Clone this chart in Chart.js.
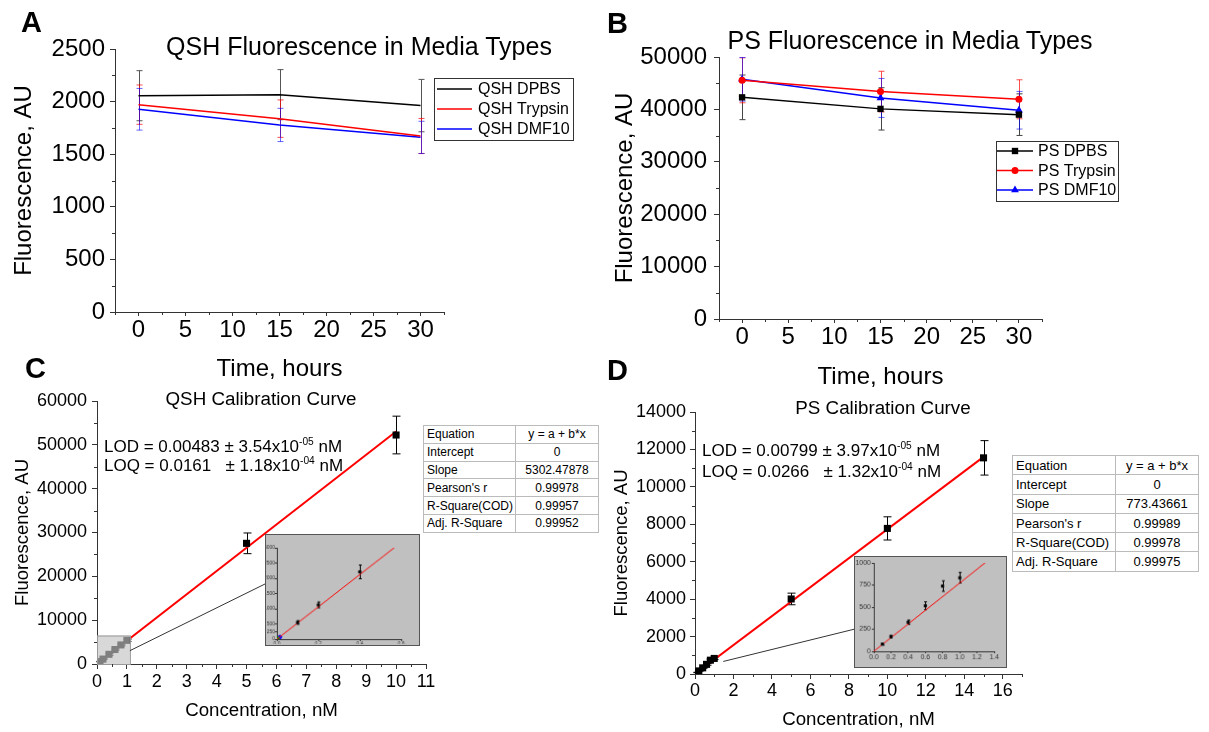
<!DOCTYPE html>
<html>
<head>
<meta charset="utf-8">
<script src="https://cdn.jsdelivr.net/npm/chart.js@4.4.1/dist/chart.umd.min.js"></script>
<style>
  body { margin: 0; background: #fff; }
  #page { position: relative; width: 1209px; height: 732px; overflow: hidden; font-family: Arial, "Liberation Sans", sans-serif; }
  canvas { position: absolute; }
  .inset { background: #c0c0c0; border: 1px solid #555; z-index: 2; }
  .lbl { position: absolute; line-height: 1; white-space: pre; color: #000; z-index: 3; }
  .panel { font-weight: bold; font-size: 29px; }
  .ttl { font-size: 25px; transform: translateX(-50%); }
  .ttl2 { font-size: 18.8px; transform: translateX(-50%); }
  .lod { font-size: 17px; }
  .lod sup { font-size: 0.6em; vertical-align: super; line-height: 0; }
  table.fit { position: absolute; border-collapse: collapse; z-index: 3; border: 1px solid #444; background: #fff; table-layout: fixed; }
  table.fit td { border: 1px solid #bbb; padding: 0 3px; white-space: nowrap; overflow: hidden; }
  table.fit td:nth-child(2) { text-align: center; }
</style>
</head>
<body>
<div id="page">
  <canvas id="cA" width="600" height="400" style="left:0;top:0"></canvas>
  <canvas id="cB" width="609" height="400" style="left:600px;top:0"></canvas>
  <canvas id="cC" width="600" height="352" style="left:0;top:380px"></canvas>
  <canvas id="cD" width="609" height="352" style="left:600px;top:380px"></canvas>
  <canvas id="iC" class="inset" width="155" height="112" style="left:265px;top:534px"></canvas>
  <canvas id="iD" class="inset" width="153" height="112" style="left:854px;top:556px"></canvas>

  <div class="lbl panel" style="left:21px;top:8px">A</div>
  <div class="lbl panel" style="left:607px;top:9px">B</div>
  <div class="lbl panel" style="left:25px;top:354px">C</div>
  <div class="lbl panel" style="left:607px;top:356px">D</div>

  <div class="lbl ttl" style="left:359px;top:34px">QSH Fluorescence in Media Types</div>
  <div class="lbl ttl" style="left:910px;top:28px">PS Fluorescence in Media Types</div>
  <div class="lbl ttl2" style="left:261px;top:390px">QSH Calibration Curve</div>
  <div class="lbl ttl2" style="left:883px;top:399px">PS Calibration Curve</div>

  <div class="lbl lod" style="left:104px;top:438px">LOD = 0.00483 ± 3.54x10<sup>-05</sup> nM</div>
  <div class="lbl lod" style="left:104px;top:457px">LOQ = 0.0161   ± 1.18x10<sup>-04</sup> nM</div>
  <div class="lbl lod" style="left:702px;top:442px">LOD = 0.00799 ± 3.97x10<sup>-05</sup> nM</div>
  <div class="lbl lod" style="left:702px;top:463px">LOQ = 0.0266   ± 1.32x10<sup>-04</sup> nM</div>

  <table id="tC" class="fit" style="left:423px;top:425px;width:176px;font-size:12px"></table>
  <table id="tD" class="fit" style="left:1012px;top:455px;width:187px;font-size:13px"></table>
</div>
<script>
// ---- data: media stability (A, B) ----
const timeHours = [0, 15, 30];
const qshDpbs = [2056, 2066, 1962];
const qshDpbsErr = [238, 238, 249];
const qshTrypsin = [1971, 1838, 1673];
const qshTrypsinErr = [187, 178, 167];
const qshDmf10 = [1927, 1778, 1660];
const qshDmf10Err = [198, 158, 153];

const psDpbs = [42300, 40100, 39000];
const psDpbsErr = [4260, 4040, 3970];
const psTrypsin = [45550, 43400, 41930];
const psTrypsinErr = [4290, 3880, 3720];
const psDmf10 = [45740, 42190, 39840];
const psDmf10Err = [4160, 3720, 3590];

// ---- data: calibration curves (C, D) ----
const qshConc = [0.1, 0.2, 0.4, 0.6, 0.8, 1, 5, 10];
const qshFluor = [547, 1125, 2209, 3300, 4350, 5400, 27530, 52240];
const qshErr = [60, 95, 225, 150, 200, 250, 2360, 4300];
const qshFitX = [0, 10];
const qshFitY = [0, 53025];
const qshBlankX = [0.003];
const qshBlankY = [15];
const qshBlank2X = [0.015];
const qshBlank2Y = [70];

const psConc = [0.1, 0.2, 0.4, 0.6, 0.8, 1, 5, 10, 15];
const psFluor = [82, 165, 329, 515, 738, 832, 4010, 7780, 11550];
const psErr = [12, 15, 25, 45, 60, 60, 310, 620, 920];
const psFitX = [0, 15];
const psFitY = [0, 11602];

// ---- tick labels ----
const timeTicks = [0, 5, 10, 15, 20, 25, 30];
const qshMediaTicks = [0, 500, 1000, 1500, 2000, 2500];
const psMediaTicks = [0, 10000, 20000, 30000, 40000, 50000];
const qshConcTicks = [0, 1, 2, 3, 4, 5, 6, 7, 8, 9, 10, 11];
const qshCalTicks = [0, 10000, 20000, 30000, 40000, 50000, 60000];
const psConcTicks = [0, 2, 4, 6, 8, 10, 12, 14, 16];
const psCalTicks = [0, 2000, 4000, 6000, 8000, 10000, 12000, 14000];
const qshInsetXTicks = [0, 0.2, 0.4, 0.6];
const qshInsetYTicks = [0, 250, 500, 1000, 1500, 2000, 2500, 3000];
const psInsetXTicks = [0, 0.2, 0.4, 0.6, 0.8, 1.0, 1.2, 1.4];
const psInsetYTicks = [0, 250, 500, 750, 1000];

// ---- fit tables ----
const fitRows = ['Equation', 'Intercept', 'Slope', "Pearson's r", 'R-Square(COD)', 'Adj. R-Square'];
const qshFitStats = ['y = a + b*x', '0', '5302.47878', '0.99978', '0.99957', '0.99952'];
const psFitStats = ['y = a + b*x', '0', '773.43661', '0.99989', '0.99978', '0.99975'];

Chart.defaults.font.family = 'Arial, "Liberation Sans", sans-serif';
Chart.defaults.color = '#000';
Chart.defaults.animation = false;

function pts(xs, ys) {
    return xs.map((x, i) => ({ x: x, y: ys[i] }));
}

function axis(o) {
    return {
        type: 'linear',
        min: o.min,
        max: o.max,
        afterBuildTicks: s => { s.ticks = o.ticks.map(v => ({ value: v })); },
        afterFit: s => {
            if (o.width) s.width = o.width;
            if (o.height) s.height = o.height;
        },
        border: { display: true, color: '#333', width: 1 },
        grid: { drawOnChartArea: false, drawTicks: true, tickLength: o.tl, color: '#333', tickColor: '#333' },
        ticks: {
            font: { size: o.size }, padding: o.pad, color: o.color || '#000',
            autoSkip: false, maxRotation: 0,
            callback: o.fmt || (v => String(v))
        },
        title: o.title
            ? { display: true, text: o.title, font: { size: o.tsize }, padding: { top: o.tpad || 0, bottom: 0 }, color: '#000' }
            : { display: false }
    };
}

// error bars from the *Err arrays
const errorBars = {
    id: 'errorBars',
    beforeDatasetsDraw(chart, args, o) {
        const { ctx, chartArea: a } = chart;
        const ys = chart.scales.y;
        const pad = o.pad || 0;
        ctx.save();
        ctx.beginPath();
        ctx.rect(a.left - pad, a.top - pad, a.width + 2 * pad, a.height + 2 * pad);
        ctx.clip();
        chart.data.datasets.forEach((ds, i) => {
            if (!ds.errors) return;
            const meta = chart.getDatasetMeta(i);
            ctx.strokeStyle = ds.errorColor || ds.borderColor;
            ctx.lineWidth = 1;
            const cap = ds.capHalf || 3;
            meta.data.forEach((el, j) => {
                const e = ds.errors[j];
                if (!e) return;
                const v = ds.data[j].y;
                const x = Math.round(el.x) + 0.5;
                const t = ys.getPixelForValue(v + e), b = ys.getPixelForValue(v - e);
                ctx.beginPath();
                ctx.moveTo(x, t); ctx.lineTo(x, b);
                ctx.moveTo(x - cap, t); ctx.lineTo(x + cap, t);
                ctx.moveTo(x - cap, b); ctx.lineTo(x + cap, b);
                ctx.stroke();
            });
        });
        ctx.restore();
    }
};

// small unlabelled ticks between the major ones
const minorTicks = {
    id: 'minorTicks',
    afterDraw(chart, args, o) {
        if (!o.x && !o.y) return;
        const ctx = chart.ctx;
        ctx.save();
        ctx.strokeStyle = '#333';
        ctx.lineWidth = 1;
        ['x', 'y'].forEach(k => {
            const step = o[k];
            if (!step) return;
            const s = chart.scales[k];
            const majors = s.ticks.map(t => t.value);
            const n = Math.round((s.max - s.min) / step);
            for (let i = 0; i <= n; i++) {
                const v = s.min + i * step;
                if (majors.some(m => Math.abs(m - v) < step / 100)) continue;
                const p = Math.round(s.getPixelForValue(v)) + 0.5;
                ctx.beginPath();
                if (k === 'x') { ctx.moveTo(p, s.top); ctx.lineTo(p, s.top + o.len); }
                else { ctx.moveTo(s.right, p); ctx.lineTo(s.right - o.len, p); }
                ctx.stroke();
            }
        });
        ctx.restore();
    }
};

// framed legend like the original
const boxLegend = {
    id: 'boxLegend',
    afterDraw(chart, args, o) {
        if (!o.box) return;
        const ctx = chart.ctx;
        const [x, y, w, h] = o.box;
        ctx.save();
        ctx.strokeStyle = '#333';
        ctx.lineWidth = 1;
        ctx.strokeRect(x + 0.5, y + 0.5, w, h);
        ctx.font = o.size + 'px Arial, "Liberation Sans", sans-serif';
        ctx.textBaseline = 'middle';
        chart.data.datasets.forEach((ds, i) => {
            const ly = y + o.first + i * o.row;
            ctx.strokeStyle = ds.borderColor;
            ctx.lineWidth = 1.5;
            ctx.beginPath();
            ctx.moveTo(x + o.l0, ly); ctx.lineTo(x + o.l1, ly);
            ctx.stroke();
            if (ds.pointRadius > 0) {
                ctx.fillStyle = ds.backgroundColor;
                Chart.helpers.drawPoint(ctx, { pointStyle: ds.pointStyle, radius: ds.pointRadius, rotation: 0, borderWidth: 0 }, x + (o.l0 + o.l1) / 2, ly);
            }
            ctx.fillStyle = '#000';
            ctx.fillText(ds.label, x + o.tx, ly + 1);
        });
        ctx.restore();
    }
};

// shaded zoom region and the connector to the inset
const zoomBox = {
    id: 'zoomBox',
    afterDatasetsDraw(chart, args, o) {
        if (!o.to) return;
        const ctx = chart.ctx;
        const xs = chart.scales.x, ys = chart.scales.y;
        ctx.save();
        if (o.box) {
            const x0 = xs.getPixelForValue(o.box[0]), x1 = xs.getPixelForValue(o.box[1]);
            const y0 = ys.getPixelForValue(o.box[2]), y1 = ys.getPixelForValue(o.box[3]);
            ctx.fillStyle = 'rgba(195,195,195,0.65)';
            ctx.fillRect(x0, y1, x1 - x0, y0 - y1);
            ctx.strokeStyle = '#999';
            ctx.lineWidth = 1;
            ctx.strokeRect(x0 + 0.5, y1 + 0.5, x1 - x0, y0 - y1);
        }
        ctx.strokeStyle = '#333';
        ctx.lineWidth = 1;
        ctx.beginPath();
        ctx.moveTo(xs.getPixelForValue(o.from[0]), ys.getPixelForValue(o.from[1]));
        ctx.lineTo(o.to[0], o.to[1]);
        ctx.stroke();
        ctx.restore();
    }
};

const plugs = [errorBars, minorTicks, boxLegend, zoomBox];

function baseOptions(padding, extra) {
    return Object.assign({
        responsive: false,
        devicePixelRatio: 1,
        layout: { padding: padding },
        plugins: Object.assign({ legend: { display: false }, tooltip: { enabled: false } }, extra)
    });
}

function series(label, xs, ys, errs, color, errColor, style, radius) {
    return {
        label: label, data: pts(xs, ys), errors: errs,
        borderColor: color, backgroundColor: color, errorColor: errColor,
        showLine: true, borderWidth: 1.5, tension: 0,
        pointStyle: style || 'circle', pointRadius: radius || 0, pointBorderWidth: 0, capHalf: 3
    };
}

// ---- A: QSH in media ----
const optA = baseOptions({ left: 0, top: 49, right: 156, bottom: 16 }, {
    minorTicks: { x: 2.5, y: 250, len: 3 },
    boxLegend: { box: [434, 78, 139, 62], first: 11, row: 20, l0: 3, l1: 38, tx: 44, size: 16 }
});
optA.scales = {
    x: axis({ min: -2.5, max: 32.5, ticks: timeTicks, height: 72, tl: 4, pad: 0, size: 24, title: 'Time, hours', tsize: 24 }),
    y: axis({ min: 0, max: 2500, ticks: qshMediaTicks, width: 115, tl: 5, pad: 5, size: 24, title: 'Fluorescence, AU', tsize: 24, tpad: 10 })
};
new Chart(document.getElementById('cA'), {
    type: 'scatter',
    data: { datasets: [
        series('QSH DPBS', timeHours, qshDpbs, qshDpbsErr, '#000000', '#555555'),
        series('QSH Trypsin', timeHours, qshTrypsin, qshTrypsinErr, '#ff0000', 'rgba(255,0,0,0.7)'),
        series('QSH DMF10', timeHours, qshDmf10, qshDmf10Err, '#0000ff', 'rgba(0,0,255,0.6)')
    ] },
    options: optA,
    plugins: plugs
});

// ---- B: PS in media ----
const optB = baseOptions({ left: 0, top: 57, right: 167, bottom: 8 }, {
    errorBars: { pad: 10 },
    minorTicks: { x: 2.5, y: 5000, len: 3 },
    boxLegend: { box: [396, 141, 122, 60], first: 10, row: 19.5, l0: 1, l1: 37, tx: 42, size: 16 }
});
optB.scales = {
    x: axis({ min: -2.5, max: 32.5, ticks: timeTicks, height: 73, tl: 4, pad: 0, size: 24, title: 'Time, hours', tsize: 24 }),
    y: axis({ min: 0, max: 50000, ticks: psMediaTicks, width: 119, tl: 5, pad: 7, size: 24, title: 'Fluorescence, AU', tsize: 24, tpad: 11 })
};
new Chart(document.getElementById('cB'), {
    type: 'scatter',
    data: { datasets: [
        series('PS DPBS', timeHours, psDpbs, psDpbsErr, '#000000', '#444444', 'rect', 4.5),
        series('PS Trypsin', timeHours, psTrypsin, psTrypsinErr, '#ff0000', 'rgba(255,0,0,0.7)', 'circle', 3.5),
        series('PS DMF10', timeHours, psDmf10, psDmf10Err, '#0000ff', 'rgba(0,0,255,0.6)', 'triangle', 4.5)
    ] },
    options: optB,
    plugins: plugs
});

// ---- C: QSH calibration ----
function calSets(xs, ys, errs, fx, fy, r, cap, lw) {
    return [
        { label: 'data', data: pts(xs, ys), errors: errs, borderColor: '#000', backgroundColor: '#000', errorColor: '#000',
          pointStyle: 'rect', pointRadius: r, pointBorderWidth: 0, showLine: false, capHalf: cap },
        { label: 'fit', data: pts(fx, fy), borderColor: '#ff0000', backgroundColor: '#ff0000',
          showLine: true, borderWidth: lw, pointRadius: 0, tension: 0 }
    ];
}

const optC = baseOptions({ left: 0, top: 21, right: 174, bottom: 10 }, {
    errorBars: { pad: 10 },
    minorTicks: { x: 0.5, y: 5000, len: 3 },
    zoomBox: { box: [0, 1.1, 0, 6500], from: [1.1, 3040], to: [267, 203] }
});
optC.scales = {
    x: axis({ min: 0, max: 11, ticks: qshConcTicks, height: 58, tl: 5, pad: 2, size: 18, title: 'Concentration, nM', tsize: 18.7 }),
    y: axis({ min: 0, max: 60000, ticks: qshCalTicks, width: 97, tl: 5, pad: 5, size: 18, title: 'Fluorescence, AU', tsize: 18.5, tpad: 12 })
};
new Chart(document.getElementById('cC'), {
    type: 'scatter',
    data: { datasets: calSets(qshConc, qshFluor, qshErr, qshFitX, qshFitY, 5, 4, 2) },
    options: optC,
    plugins: plugs
});

// ---- D: PS calibration ----
const optD = baseOptions({ left: 0, top: 32, right: 187, bottom: 1 }, {
    errorBars: { pad: 10 },
    minorTicks: { x: 1, y: 1000, len: 3 },
    zoomBox: { from: [1.47, 670], to: [255, 249] }
});
optD.scales = {
    x: axis({ min: 0, max: 17, ticks: psConcTicks, height: 57, tl: 5, pad: 1, size: 18, title: 'Concentration, nM', tsize: 18.7 }),
    y: axis({ min: 0, max: 14000, ticks: psCalTicks, width: 95, tl: 5, pad: 4, size: 18, title: 'Fluorescence, AU', tsize: 18.5, tpad: 11 })
};
new Chart(document.getElementById('cD'), {
    type: 'scatter',
    data: { datasets: calSets(psConc, psFluor, psErr, psFitX, psFitY, 5, 4, 2) },
    options: optD,
    plugins: plugs
});

// ---- insets ----
const fmt1 = v => v.toFixed(1);

const optIC = baseOptions({ left: 0, top: 13, right: 18, bottom: 1 }, { errorBars: { pad: 0 } });
optIC.scales = {
    x: axis({ min: 0, max: 0.6, ticks: qshInsetXTicks, height: 5, tl: 2, pad: 0, size: 5, color: '#333', fmt: fmt1 }),
    y: axis({ min: 0, max: 3000, ticks: qshInsetYTicks, width: 11, tl: 2, pad: 0, size: 5, color: '#333' })
};
const icSets = calSets(qshConc, qshFluor, qshErr, qshFitX, qshFitY, 2.2, 1.5, 1);
icSets.push({ label: 'blank', data: pts(qshBlankX, qshBlankY), backgroundColor: '#00a000', borderColor: '#00a000', pointRadius: 1.8 });
icSets.push({ label: 'blank2', data: pts(qshBlank2X, qshBlank2Y), backgroundColor: '#0000ff', borderColor: '#0000ff', pointRadius: 1.8 });
new Chart(document.getElementById('iC'), {
    type: 'scatter',
    data: { datasets: icSets },
    options: optIC,
    plugins: plugs
});

const optID = baseOptions({ left: 0, top: 6, right: 12, bottom: 6 }, { errorBars: { pad: 0 } });
optID.scales = {
    x: axis({ min: 0, max: 1.4, ticks: psInsetXTicks, height: 10, tl: 2, pad: 0, size: 7, color: '#333', fmt: fmt1 }),
    y: axis({ min: 0, max: 1000, ticks: psInsetYTicks, width: 19, tl: 2, pad: 1, size: 7, color: '#333' })
};
new Chart(document.getElementById('iD'), {
    type: 'scatter',
    data: { datasets: calSets(psConc, psFluor, psErr, psFitX, psFitY, 2.2, 1.5, 1) },
    options: optID,
    plugins: plugs
});

// ---- fit tables ----
function fillTable(id, stats, firstCol) {
    const t = document.getElementById(id);
    const h = id === 'tC' ? 17.8 : 19.3;
    fitRows.forEach((name, i) => {
        const tr = document.createElement('tr');
        tr.style.height = h + 'px';
        tr.innerHTML = '<td style="width:' + firstCol + 'px">' + name + '</td><td>' + stats[i] + '</td>';
        t.appendChild(tr);
    });
}
fillTable('tC', qshFitStats, 85);
fillTable('tD', psFitStats, 96);
</script>
</body>
</html>
